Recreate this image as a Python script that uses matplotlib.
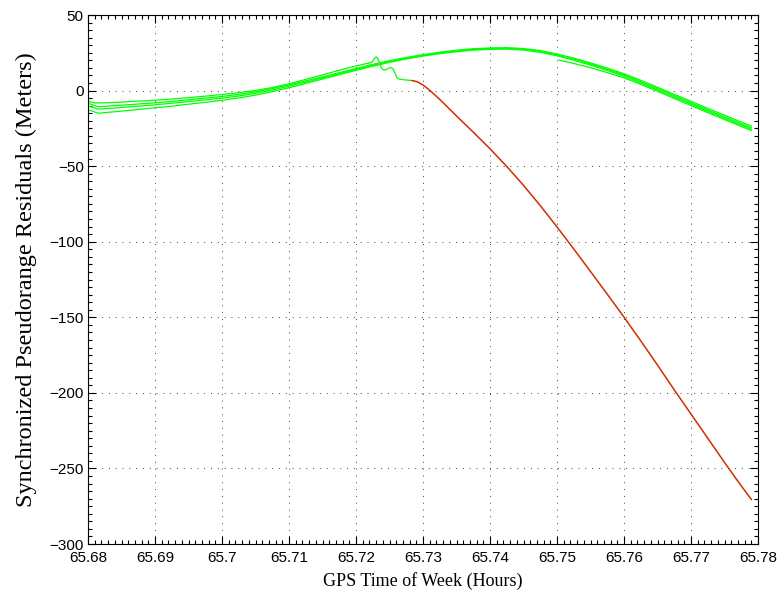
import matplotlib
matplotlib.use("Agg")
import matplotlib.pyplot as plt
from matplotlib.ticker import MultipleLocator

# ---- data ----
x_bundle = [65.6800, 65.6815, 65.6825, 65.6850, 65.6875, 65.6900, 65.6925, 65.6950, 65.6975,
            65.7000, 65.7025, 65.7050, 65.7075, 65.7100, 65.7125, 65.7150, 65.7175, 65.7200,
            65.7225, 65.7250, 65.7275, 65.7300, 65.7325, 65.7350, 65.7375, 65.7400, 65.7425,
            65.7450, 65.7475, 65.7500, 65.7525, 65.7550, 65.7575, 65.7600, 65.7625, 65.7650,
            65.7675, 65.7700, 65.7725, 65.7750, 65.7775, 65.7790]
sat_b1 = [-8.4, -10.7, -10.4, -9.7, -8.9, -8.1, -7.2, -6.1, -5.0,
          -3.9, -2.5, -0.8, 1.3, 3.8, 6.4, 9.1, 11.8, 14.6,
          17.3, 19.8, 21.9, 23.8, 25.4, 26.7, 27.7, 28.2, 28.4,
          27.8, 26.5, 24.2, 21.5, 18.3, 14.9, 11.1, 6.8, 2.2,
          -2.5, -7.1, -11.8, -16.3, -20.8, -23.5]
sat_b2 = [-10.1, -12.3, -12.0, -11.2, -10.3, -9.4, -8.4, -7.3, -6.2,
          -5.0, -3.6, -1.8, 0.4, 2.9, 5.6, 8.4, 11.2, 14.0,
          16.7, 19.2, 21.4, 23.3, 24.9, 26.2, 27.2, 27.8, 27.9,
          27.3, 25.9, 23.6, 20.8, 17.6, 14.1, 10.3, 5.9, 1.3,
          -3.4, -8.1, -12.8, -17.4, -21.9, -24.6]
sat_b3 = [-12.6, -15.0, -14.6, -13.6, -12.5, -11.4, -10.3, -9.0, -7.8,
          -6.4, -4.9, -3.0, -0.7, 1.9, 4.7, 7.6, 10.5, 13.4,
          16.1, 18.7, 20.9, 22.8, 24.4, 25.7, 26.7, 27.3, 27.4,
          26.8, 25.3, 23.0, 20.1, 16.9, 13.3, 9.5, 5.0, 0.4,
          -4.3, -9.0, -13.7, -18.3, -22.8, -25.5]

x_late = [65.7503, 65.7525, 65.7550, 65.7575, 65.7600, 65.7625, 65.7650, 65.7675, 65.7700,
          65.7725, 65.7750, 65.7775, 65.7790]
sat_late = [20.2, 17.9, 15.1, 11.9, 8.4, 4.1, -0.5, -5.2, -9.9,
            -14.6, -19.2, -23.7, -26.4]

x_fault_ok = [65.6800, 65.6810, 65.6825, 65.6850, 65.6875, 65.6900, 65.6925, 65.6950, 65.6975,
              65.7000, 65.7025, 65.7050, 65.7075, 65.7100, 65.7125, 65.7150, 65.7175, 65.7200,
              65.7223, 65.7225, 65.7228, 65.7230, 65.7232, 65.7235, 65.7238, 65.7241, 65.7245,
              65.7249, 65.7252, 65.7255, 65.7258, 65.7261, 65.7264, 65.7270, 65.7277, 65.7284]
sat_fault_ok = [-7.0, -8.2, -8.1, -7.6, -7.0, -6.4, -5.6, -4.7, -3.7,
                -2.6, -1.4, 0.1, 2.0, 4.5, 7.4, 10.4, 13.5, 16.3,
                18.6, 19.6, 21.5, 22.2, 21.6, 18.5, 15.0, 13.6, 13.8,
                14.8, 15.4, 14.5, 11.8, 8.6, 7.6, 7.2, 6.9, 6.6]

x_fault = [65.7284, 65.7290, 65.7295, 65.7300, 65.7305, 65.7310, 65.7320, 65.7330, 65.7340,
           65.7350, 65.7375, 65.7400, 65.7425, 65.7450, 65.7475, 65.7500, 65.7525, 65.7550,
           65.7575, 65.7600, 65.7625, 65.7650, 65.7675, 65.7700, 65.7725, 65.7750, 65.7770,
           65.7790]
sat_fault = [6.6, 6.0, 5.0, 3.6, 2.0, 0.2, -3.8, -8.0, -12.4,
             -16.8, -27.5, -38.5, -50.2, -62.7, -76.1, -90.2, -104.8, -119.7,
             -134.7, -149.9, -165.6, -181.6, -198.0, -214.0, -230.0, -246.0, -258.5,
             -270.5]

xticks = [65.68, 65.69, 65.70, 65.71, 65.72, 65.73, 65.74, 65.75, 65.76, 65.77, 65.78]
xticklabels = ["65.68", "65.69", "65.7", "65.71", "65.72", "65.73", "65.74", "65.75",
               "65.76", "65.77", "65.78"]
yticks = [-300, -250, -200, -150, -100, -50, 0, 50]

xlabel = "GPS Time of Week (Hours)"
ylabel = "Synchronized Pseudorange Residuals (Meters)"

# ---- figure ----
fig = plt.figure(figsize=(7.83, 6.05), dpi=100)
ax = fig.add_axes([88 / 783, 1 - 544 / 605, (758 - 88) / 783, (544 - 15) / 605])

green = "#00ff00"
for xs, ys in [(x_bundle, sat_b1), (x_bundle, sat_b2), (x_bundle, sat_b3),
               (x_late, sat_late), (x_fault_ok, sat_fault_ok)]:
    ax.plot(xs, ys, color=green, lw=0.9, solid_joinstyle="round")
ax.plot(x_fault, sat_fault, color="#cc3000", lw=1.1, zorder=3, solid_joinstyle="round")

ax.set_xlim(65.68, 65.78)
ax.set_ylim(-300, 50)
ax.set_xticks(xticks)
ax.set_xticklabels(xticklabels)
ax.set_yticks(yticks)
ax.xaxis.set_minor_locator(MultipleLocator(0.001))
ax.yaxis.set_minor_locator(MultipleLocator(5))

tick_font = ["Liberation Sans Narrow", "Liberation Sans", "DejaVu Sans"]
for lab in ax.get_xticklabels() + ax.get_yticklabels():
    lab.set_fontfamily(tick_font)
    lab.set_fontsize(11)

ax.tick_params(which="both", direction="in", top=True, right=True, width=0.8, colors="k")
ax.tick_params(which="major", length=6)
ax.tick_params(axis="x", which="major", pad=5)
ax.tick_params(axis="y", which="major", pad=3)
ax.tick_params(which="minor", length=3)

ax.grid(True, which="major", color="#404040", lw=0.7, linestyle=(0, (1, 6)))
for s in ax.spines.values():
    s.set_linewidth(0.8)

ax.set_xlabel(xlabel, family=["Liberation Serif", "DejaVu Serif"], fontsize=13, labelpad=5)
ax.set_ylabel(ylabel, family=["Liberation Serif", "DejaVu Serif"], fontsize=17.5, labelpad=9)

fig.savefig("out.png", dpi=100)
